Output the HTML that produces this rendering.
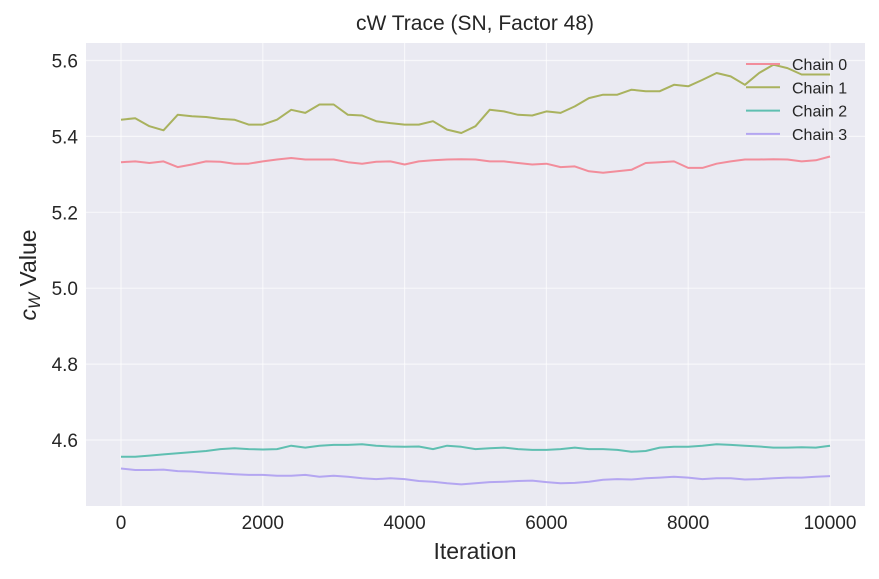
<!DOCTYPE html>
<html><head><meta charset="utf-8"><style>
body{margin:0;background:#fff;}
svg{display:block;font-family:"Liberation Sans",sans-serif;}
</style></head><body>
<svg id="chart" width="879" height="579" viewBox="0 0 879 579">
<rect x="86" y="43" width="779" height="463" fill="#eaeaf2"/>
<g id="grid"></g><g id="series"></g><g id="ticks"></g>
<text x="475" y="30" text-anchor="middle" font-size="21" fill="#262626">cW Trace (SN, Factor 48)</text>
<text x="475" y="559" text-anchor="middle" font-size="23" fill="#262626">Iteration</text>
<text transform="translate(36,275) rotate(-90)" text-anchor="middle" font-size="23" fill="#262626"><tspan font-style="italic">c</tspan><tspan font-style="italic" font-size="17" dy="4">W</tspan><tspan dy="-4"> Value</tspan></text>
<g id="legend"></g>
</svg>
<script>
const xTicks=[0,2000,4000,6000,8000,10000];
const xTickLabels=["0","2000","4000","6000","8000","10000"];
const yTicks=[4.6,4.8,5.0,5.2,5.4,5.6];
const yTickLabels=["4.6","4.8","5.0","5.2","5.4","5.6"];
const seriesNames=["Chain 0","Chain 1","Chain 2","Chain 3"];
const seriesColors=["#f28d9b","#a9b25e","#5fbfb1","#b4a6f1"];
const iterStep=200;
const chain0=[5.332,5.334,5.330,5.334,5.319,5.326,5.334,5.333,5.328,5.328,5.334,5.339,5.343,5.339,5.339,5.339,5.332,5.328,5.333,5.334,5.326,5.334,5.337,5.339,5.340,5.339,5.334,5.334,5.330,5.326,5.328,5.319,5.321,5.308,5.304,5.308,5.312,5.330,5.332,5.334,5.317,5.317,5.328,5.334,5.339,5.339,5.340,5.339,5.334,5.337,5.347];
const chain1=[5.444,5.448,5.427,5.416,5.457,5.453,5.451,5.446,5.444,5.431,5.431,5.444,5.470,5.462,5.484,5.484,5.457,5.455,5.440,5.435,5.431,5.431,5.440,5.418,5.409,5.427,5.470,5.466,5.457,5.455,5.466,5.462,5.479,5.501,5.510,5.510,5.523,5.519,5.519,5.536,5.532,5.549,5.567,5.558,5.536,5.567,5.589,5.580,5.563,5.563,5.563];
const chain2=[4.556,4.556,4.559,4.562,4.565,4.568,4.571,4.576,4.578,4.576,4.575,4.576,4.585,4.580,4.585,4.587,4.587,4.589,4.585,4.583,4.582,4.583,4.576,4.585,4.582,4.576,4.578,4.580,4.576,4.574,4.574,4.576,4.580,4.576,4.576,4.574,4.569,4.571,4.580,4.582,4.582,4.585,4.589,4.587,4.585,4.583,4.580,4.580,4.581,4.580,4.585];
const chain3=[4.525,4.521,4.521,4.522,4.518,4.517,4.514,4.512,4.510,4.508,4.508,4.506,4.506,4.508,4.503,4.506,4.503,4.499,4.497,4.499,4.497,4.492,4.490,4.486,4.483,4.486,4.489,4.490,4.492,4.493,4.489,4.486,4.487,4.490,4.495,4.497,4.496,4.499,4.501,4.503,4.501,4.497,4.499,4.499,4.496,4.497,4.499,4.501,4.501,4.503,4.505];
const allSeries=[chain0,chain1,chain2,chain3];
const NS="http://www.w3.org/2000/svg";
const xs=i=>121+i*(709/10000);
const ys=v=>60.5+(5.6-v)*379.5;
function mk(tag,attrs,parent){const e=document.createElementNS(NS,tag);for(const k in attrs)e.setAttribute(k,attrs[k]);parent.appendChild(e);return e;}
const grid=document.getElementById('grid'),ticks=document.getElementById('ticks'),ser=document.getElementById('series'),leg=document.getElementById('legend');
xTicks.forEach((t,i)=>{
  const l=mk('line',{x1:xs(t),x2:xs(t),y1:43,y2:506,stroke:'#fff','stroke-width':1.2,'stroke-opacity':0.6},grid);
  
  
  const tx=mk('text',{x:xs(t),y:529,'text-anchor':'middle','font-size':19,fill:'#262626'},ticks);
  tx.textContent=xTickLabels[i];
  
  
});
yTicks.forEach((t,i)=>{
  const l=mk('line',{x1:86,x2:865,y1:ys(t),y2:ys(t),stroke:'#fff','stroke-width':1.2,'stroke-opacity':0.6},grid);
  
  
  const tx=mk('text',{x:78,y:ys(t)+7,'text-anchor':'end','font-size':19,fill:'#262626'},ticks);
  tx.textContent=yTickLabels[i];
  
  
});
allSeries.forEach((s,si)=>{
  const pts=s.map((v,i)=>xs(i*iterStep).toFixed(1)+','+ys(v).toFixed(1)).join(' ');
  const p=mk('polyline',{points:pts,fill:'none',stroke:seriesColors[si],'stroke-width':2,'stroke-linejoin':'round'},ser);
  
  
  const ly=64+si*23.3;
  const ll=mk('line',{x1:746,x2:780,y1:ly,y2:ly,stroke:seriesColors[si],'stroke-width':2},leg);
  
  
  const lt=mk('text',{x:792,y:ly+6,'font-size':16,fill:'#262626'},leg);
  lt.textContent=seriesNames[si];
  
  
});
</script>
</body></html>
